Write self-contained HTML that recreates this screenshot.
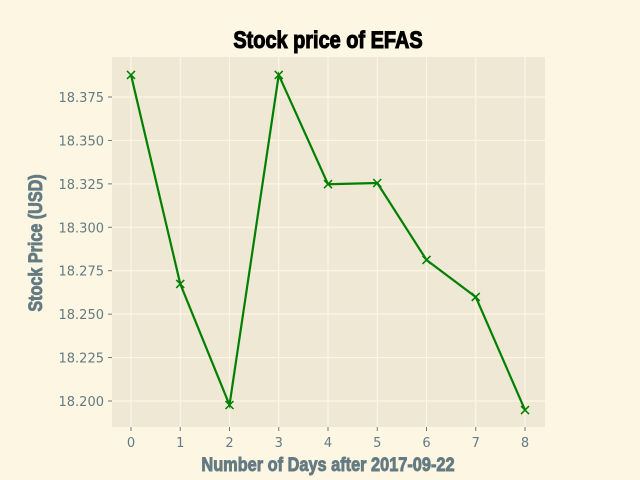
<!DOCTYPE html>
<html><head><meta charset="utf-8"><style>
body{margin:0;background:#fdf6e3;}
svg{display:block;font-family:"DejaVu Sans","Liberation Sans",sans-serif;}
.tl{font-size:13px;fill:#657b83;}
.ttl{font-family:"Liberation Sans Narrow","Liberation Sans",sans-serif;font-weight:bold;}
</style></head><body>
<svg width="640" height="480">
<rect width="640" height="480" fill="#fdf6e3"/>
<rect x="112" y="57" width="433" height="370" fill="#eee8d5"/>
<g id="grid"></g><g id="ticks"></g><g id="series"></g>
<text x="328" y="48" text-anchor="middle" class="ttl" font-size="24" fill="#000" stroke="#000" stroke-width="1.1" transform="translate(328 0) scale(0.83 1) translate(-328 0)">Stock price of EFAS</text>
<text x="328" y="471" text-anchor="middle" class="ttl" font-size="19" fill="#657b83" stroke="#657b83" stroke-width="0.9" transform="translate(328 0) scale(0.86 1) translate(-328 0)">Number of Days after 2017-09-22</text>
<text transform="translate(42 243) rotate(-90) scale(0.85 1)" text-anchor="middle" class="ttl" font-size="19" fill="#657b83" stroke="#657b83" stroke-width="0.9">Stock Price (USD)</text>
</svg>
<script>
const days=[0,1,2,3,4,5,6,7,8];
const prices=[18.3877,18.2674,18.1977,18.3877,18.3248,18.3255,18.2812,18.2599,18.1948];
const yTicks=[18.200,18.225,18.250,18.275,18.300,18.325,18.350,18.375];
const xTicks=[0,1,2,3,4,5,6,7,8];
const NS="http://www.w3.org/2000/svg";
const X=d=>131+d*49.25;
const Y=v=>97+(18.375-v)/0.025*43.43;
function mk(t,a,p){const e=document.createElementNS(NS,t);for(const k in a)e.setAttribute(k,a[k]);p.appendChild(e);return e;}
const g=document.getElementById('grid'),tk=document.getElementById('ticks'),s=document.getElementById('series');
xTicks.forEach(d=>{
 const l=mk('line',{x1:X(d),x2:X(d),y1:57,y2:427,stroke:'#fdf6e3','stroke-width':1.2},g);
 
 
 mk('line',{x1:X(d),x2:X(d),y1:427,y2:431,stroke:'#657b83'},tk);
 const t=mk('text',{x:X(d),y:447,'text-anchor':'middle',class:'tl'},tk);t.textContent=d;
 
 
});
yTicks.forEach(v=>{
 const l=mk('line',{x1:112,x2:545,y1:Y(v),y2:Y(v),stroke:'#fdf6e3','stroke-width':1.2},g);
 
 
 mk('line',{x1:108,x2:112,y1:Y(v),y2:Y(v),stroke:'#657b83'},tk);
 const t=mk('text',{x:104,y:Y(v)+5,'text-anchor':'end',class:'tl'},tk);t.textContent=v.toFixed(3);
 
 
});
const line=mk('polyline',{points:days.map((d,i)=>X(d)+','+Y(prices[i])).join(' '),fill:'none',stroke:'#008000','stroke-width':2.2},s);


days.forEach((d,i)=>{
 const x=X(d),y=Y(prices[i]);
 const m=mk('path',{d:`M${x-4},${y-4}L${x+4},${y+4}M${x-4},${y+4}L${x+4},${y-4}`,stroke:'#008000','stroke-width':1.5},s);
 
 
});
</script>
</body></html>
